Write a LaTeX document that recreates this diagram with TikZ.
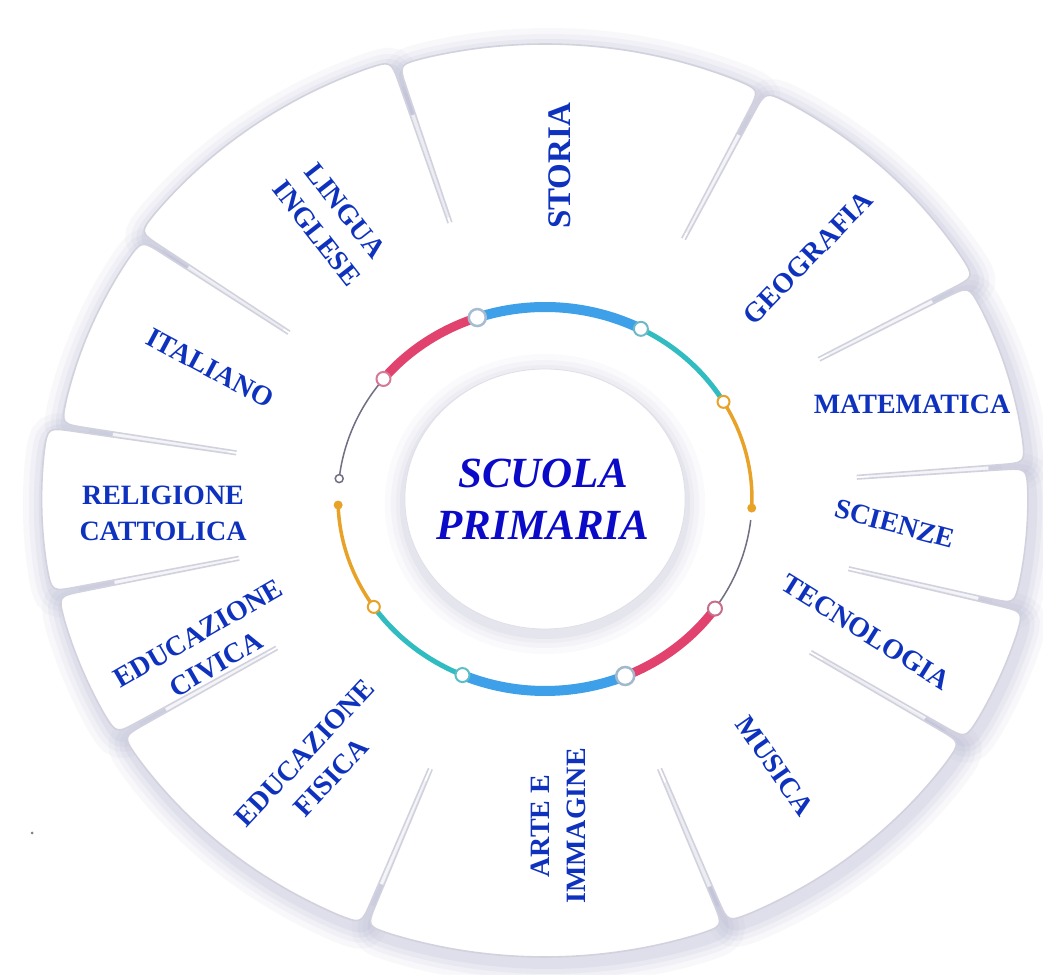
\documentclass[tikz,border=0pt]{standalone}
\usepackage{fontspec}
\setmainfont{Liberation Serif}
\definecolor{lab}{RGB}{14,50,190}
\definecolor{ctr}{RGB}{10,10,200}
\definecolor{rblue}{RGB}{62,160,232}
\definecolor{rred}{RGB}{226,66,110}
\definecolor{rteal}{RGB}{48,188,192}
\definecolor{rorange}{RGB}{232,162,40}
\definecolor{rgray}{RGB}{112,110,130}
\definecolor{edgec}{RGB}{210,210,222}
\definecolor{shadowc}{RGB}{176,178,206}
\definecolor{mblue}{RGB}{165,188,212}
\definecolor{mteal}{RGB}{110,185,200}
\definecolor{mpink}{RGB}{215,120,150}
\definecolor{mpinkb}{RGB}{200,110,140}
\definecolor{mblueb}{RGB}{160,185,205}
\definecolor{mtealb}{RGB}{90,190,200}
\begin{document}
\begin{tikzpicture}[x=1pt,y=1pt,
  lbl/.style={text=lab, font=\bfseries\fontsize{28}{36}\selectfont, align=center, inner sep=0pt},
  ctrtxt/.style={text=ctr, font=\bfseries\itshape\fontsize{43}{52}\selectfont, align=center, inner sep=0pt},
  ringmark/.style 2 args={circle, draw=#1, fill=white, line width=2pt, minimum size=#2, inner sep=0pt},
  dotm/.style={circle, fill=rorange, minimum size=9pt, inner sep=0pt}]
\useasboundingbox (0,0) rectangle (1043,974);
\fill[white] (0,0) rectangle (1043,974);

\begin{scope}[shift={(545,475)}, xscale=1.078]
  % card shadows
  \foreach \a/\b/\R in {63.7/107.7/455, 28.8/63.7/456, 4.3/28.8/447, -13.9/4.3/448,
     -31.9/-13.9/458, -68.5/-31.9/456, -111.5/-68.5/458, -149.1/-111.5/458,
     -168.2/-149.1/462, 170.85/191.8/467, 145/170.85/455, 107.7/145/461}{
    \pgfmathsetmacro\aa{\a+0.35}
    \pgfmathsetmacro\bb{\b-0.35}
    \pgfmathsetmacro\d{24/\R*180/pi}
    \pgfmathsetmacro\ad{\aa+\d}
    \pgfmathsetmacro\bd{\bb-\d}
    \pgfmathsetmacro\Rc{\R-24}
    \foreach \w/\op in {44/0.08, 32/0.1, 22/0.12, 12/0.15}{
      \draw[shadowc, line width=\w pt, opacity=\op, shift={(3,-6)}]
        (\aa:410) -- (\aa:\Rc) .. controls (\aa:\R) .. (\ad:\R)
        arc[start angle=\ad, end angle=\bd, radius=\R]
        .. controls (\bb:\R) .. (\bb:\Rc) -- (\bb:410);
    }
    \draw[shadowc, line width=10pt, opacity=0.12, shift={(2,-4)}] (\aa:300) -- (\aa:\Rc);
    \draw[shadowc, line width=10pt, opacity=0.12, shift={(2,-4)}] (\bb:300) -- (\bb:\Rc);
  }
  % card fills and edges
  \foreach \a/\b/\R in {63.7/107.7/455, 28.8/63.7/456, 4.3/28.8/447, -13.9/4.3/448,
     -31.9/-13.9/458, -68.5/-31.9/456, -111.5/-68.5/458, -149.1/-111.5/458,
     -168.2/-149.1/462, 170.85/191.8/467, 145/170.85/455, 107.7/145/461}{
    \pgfmathsetmacro\aa{\a+0.35}
    \pgfmathsetmacro\bb{\b-0.35}
    \pgfmathsetmacro\d{24/\R*180/pi}
    \pgfmathsetmacro\ad{\aa+\d}
    \pgfmathsetmacro\bd{\bb-\d}
    \pgfmathsetmacro\Rc{\R-24}
    \fill[white] (\aa:240) -- (\aa:\Rc) .. controls (\aa:\R) .. (\ad:\R)
        arc[start angle=\ad, end angle=\bd, radius=\R]
        .. controls (\bb:\R) .. (\bb:\Rc) -- (\bb:240)
        arc[start angle=\bb, end angle=\aa, radius=240] -- cycle;
    \draw[edgec, line width=1.6pt] (\aa:290) -- (\aa:\Rc) .. controls (\aa:\R) .. (\ad:\R)
        arc[start angle=\ad, end angle=\bd, radius=\R]
        .. controls (\bb:\R) .. (\bb:\Rc) -- (\bb:290);
  }
  % center disc
  \foreach \w/\op in {40/0.06, 28/0.08, 18/0.1, 10/0.12}{
    \draw[shadowc, line width=\w pt, opacity=\op] (0,-5) circle[radius=130];
  }
  \fill[white] (0,0) circle[radius=130];
  \draw[edgec!70, line width=0.8pt] (0,0) circle[radius=130];

  % ring arcs
  \draw[rblue, line width=10pt] (62.4:192) arc[start angle=62.4, end angle=109.1, radius=192];
  \draw[rred, line width=9pt] (109.1:192) arc[start angle=109.1, end angle=141.3, radius=192];
  \draw[rgray, line width=1.5pt] (141.3:192) arc[start angle=141.3, end angle=173.9, radius=192];
  \draw[rteal, line width=5pt] (30.4:192) arc[start angle=30.4, end angle=62.4, radius=192];
  \draw[rorange, line width=3.5pt] (-2.7:192) arc[start angle=-2.7, end angle=30.4, radius=192];
  \draw[rgray, line width=1.5pt] (-6.3:192) arc[start angle=-6.3, end angle=-34.8, radius=192];
  \draw[rred, line width=9pt] (-34.8:192) arc[start angle=-34.8, end angle=-67.2, radius=192];
  \draw[rblue, line width=10pt] (-67.2:192) arc[start angle=-67.2, end angle=-113.5, radius=192];
  \draw[rteal, line width=5pt] (-113.5:192) arc[start angle=-113.5, end angle=-145.8, radius=192];
  \draw[rorange, line width=3.5pt] (-145.8:192) arc[start angle=-145.8, end angle=-178.2, radius=192];

  % markers
  \node[ringmark={mblue}{17pt}, line width=2.5pt] (m1) at (109.1:192) {};
  \node[ringmark={mteal}{14pt}] (m2) at (62.4:192) {};
  \node[ringmark={rorange}{12pt}] (m3) at (30.4:192) {};
  \node[ringmark={mpink}{14pt}] (m4) at (141.3:192) {};
  \node[ringmark={rgray}{8pt}, line width=1.5pt] (m5) at (173.9:192) {};
  \node[ringmark={mpinkb}{14pt}] (m6) at (-34.8:192) {};
  \node[ringmark={mblueb}{18pt}, line width=2.5pt] (m7) at (-67.2:192) {};
  \node[ringmark={mtealb}{14pt}] (m8) at (-113.5:192) {};
  \node[ringmark={rorange}{12pt}] (m9) at (-145.8:192) {};
  \node[dotm] (d1) at (-2.7:192) {};
  \node[dotm] (d2) at (-178.2:192) {};
\end{scope}

% center text
\node[ctrtxt] (center) at (543,475) {SCUOLA\\PRIMARIA};

% labels
\node[lbl, font=\bfseries\fontsize{33}{40}\selectfont, rotate=90] (storia) at (560,808) {STORIA};
\node[lbl, rotate=46] (geografia) at (808,716) {GEOGRAFIA};
\node[lbl] (matematica) at (912,570) {MATEMATICA};
\node[lbl, rotate=-15] (scienze) at (895,450) {SCIENZE};
\node[lbl, rotate=-32] (tecnologia) at (866,342) {TECNOLOGIA};
\node[lbl, rotate=-55] (musica) at (775,208) {MUSICA};
\node[lbl, rotate=90] (arte) at (558,148) {ARTE E\\IMMAGINE};
\node[lbl, rotate=47] (edfis) at (318,209) {EDUCAZIONE\\FISICA};
\node[lbl, rotate=30] (edciv) at (207,325) {EDUCAZIONE\\CIVICA};
\node[lbl] (religione) at (163,461) {RELIGIONE\\CATTOLICA};
\node[lbl, rotate=-28] (italiano) at (210,606) {ITALIANO};
\node[lbl, rotate=-52] (lingua) at (331,752) {LINGUA\\INGLESE};

\fill[gray] (32,141) circle[radius=1.5];
\end{tikzpicture}
\end{document}
